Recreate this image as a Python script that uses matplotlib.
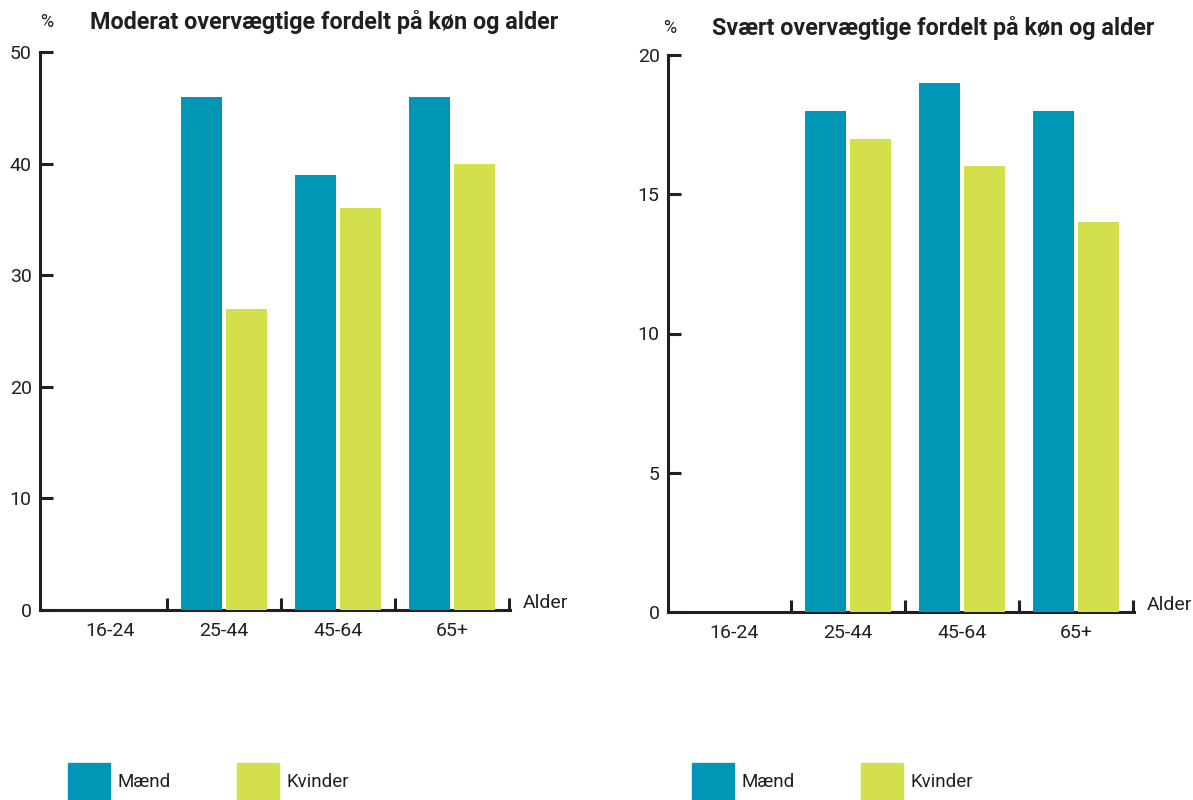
import numpy as np
import matplotlib
matplotlib.use("Agg")
import matplotlib.pyplot as plt
from matplotlib.patches import Patch

plt.rcParams['font.family'] = ['Roboto', 'DejaVu Sans']

# data
aldersgrupper = ['16-24', '25-44', '45-64', '65+']
moderat_maend = [0, 46, 39, 46]
moderat_kvinder = [0, 27, 36, 40]
svaert_maend = [0, 18, 19, 18]
svaert_kvinder = [0, 17, 16, 14]
moderat_yticks = [0, 10, 20, 30, 40, 50]
svaert_yticks = [0, 5, 10, 15, 20]

BLAA = '#0096b5'
GROEN = '#d4e04b'
MORK = '#231f20'

fig = plt.figure(figsize=(11.93, 8), dpi=100)
W, H = 1193, 800


def tegn(left_px, right_px, bottom_px, top_px, xmin, maend, kvinder, yticks,
         titel, titel_x, pct_x, titel_y, legend_x):
    ax = fig.add_axes([left_px / W, 1 - bottom_px / H,
                       (right_px - left_px) / W, (bottom_px - top_px) / H])
    x = np.arange(len(aldersgrupper))
    ax.bar(x - 0.197, maend, width=0.36, color=BLAA, linewidth=0, zorder=3)
    ax.bar(x + 0.197, kvinder, width=0.36, color=GROEN, linewidth=0, zorder=3)
    ax.set_xlim(xmin, 3.51)
    ax.set_ylim(0, yticks[-1])
    for s in ['top', 'right']:
        ax.spines[s].set_visible(False)
    for s in ['left', 'bottom']:
        ax.spines[s].set_linewidth(2.2)
        ax.spines[s].set_color(MORK)
    ax.set_yticks(yticks)
    ax.tick_params(axis='y', direction='in', length=9, width=2.2, color=MORK,
                   labelsize=14, labelcolor=MORK, pad=6)
    ax.set_xticks([0.5, 1.5, 2.5, 3.5])
    ax.set_xticklabels([])
    ax.tick_params(axis='x', which='major', direction='in', length=9, width=2.2,
                   color=MORK)
    ax.set_xticks(x, minor=True)
    ax.set_xticklabels(aldersgrupper, minor=True)
    ax.tick_params(axis='x', which='minor', length=0, labelsize=14,
                   labelcolor=MORK, pad=9)
    ax.annotate('Alder', xy=(1, 0), xycoords='axes fraction',
                xytext=(9, 5), textcoords='offset points',
                ha='left', va='center', fontsize=14, color=MORK)
    fig.text(pct_x / W, 1 - titel_y / H, '%', ha='center', va='center',
             fontsize=13, color=MORK)
    fig.text(titel_x / W, 1 - titel_y / H, titel, ha='left', va='center',
             fontsize=16.8, fontweight='bold', color=MORK)
    handles = [Patch(color=BLAA, label='Mænd'), Patch(color=GROEN, label='Kvinder')]
    fig.legend(handles=handles, loc='lower left', ncol=2, frameon=False,
               bbox_to_anchor=(legend_x / W, 0.0), bbox_transform=fig.transFigure,
               borderaxespad=0, borderpad=0, fontsize=13.5,
               handlelength=2.25, handleheight=2.7, handletextpad=0.4,
               columnspacing=3.5, labelcolor=MORK)
    return ax


tegn(40, 510, 610, 52, -0.61, moderat_maend, moderat_kvinder, moderat_yticks,
     'Moderat overvægtige fordelt på køn og alder', 90, 47, 22, 68)
tegn(668, 1134, 612, 55, -0.58, svaert_maend, svaert_kvinder, svaert_yticks,
     'Svært overvægtige fordelt på køn og alder', 712, 670, 28, 692)

fig.savefig('out.png', dpi=100)
